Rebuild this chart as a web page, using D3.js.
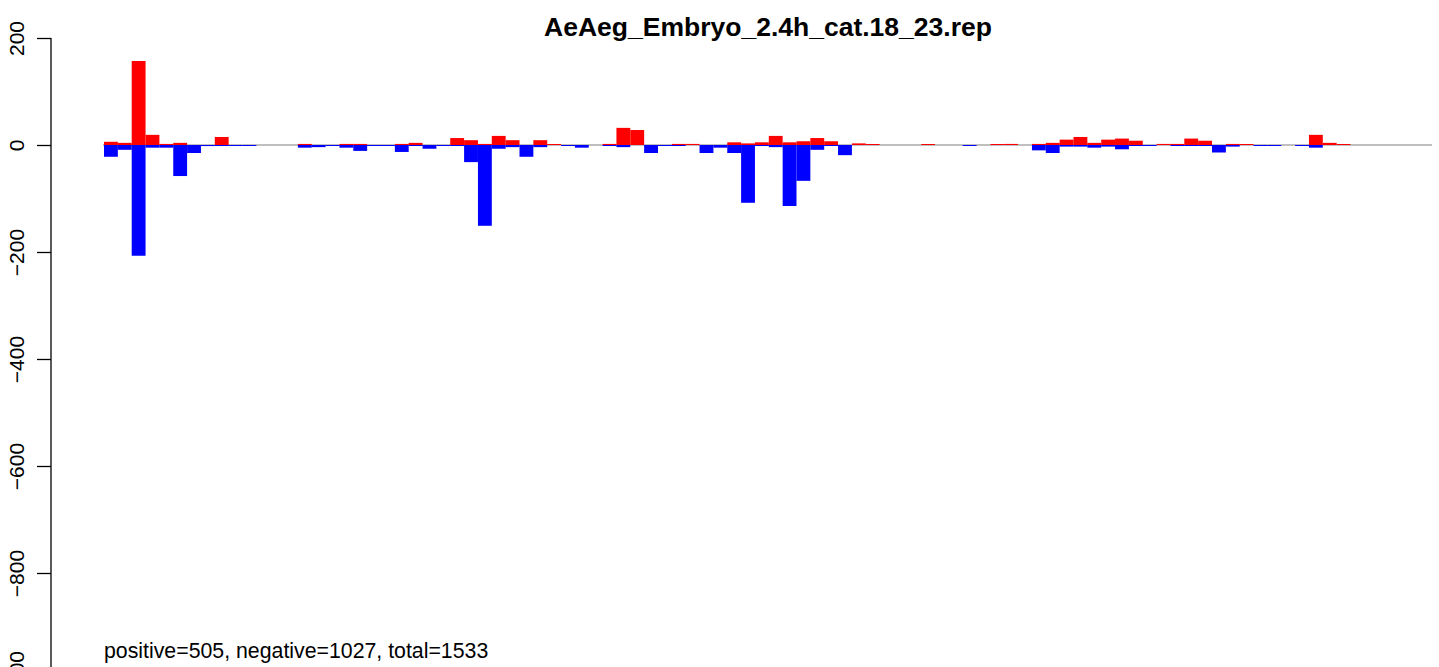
<!DOCTYPE html>
<html>
<head>
<meta charset="utf-8">
<script src="https://cdn.jsdelivr.net/npm/d3@7"></script>
<style>
html,body{margin:0;padding:0;background:#fff;}
svg{display:block;}
text{font-family:"Liberation Sans",Arial,sans-serif;}
</style>
</head>
<body>
<svg id="chart" width="1439" height="667"></svg>
<script>
const title = "AeAeg_Embryo_2.4h_cat.18_23.rep";
const footer = "positive=505, negative=1027, total=1533";
const yTicks = [200, 0, -200, -400, -600, -800, -1000];

// positive (red) counts per position
const positive = [
  6, 4, 157, 19, 2, 4, 0, 0, 15, 0,
  0, 0, 0, 0, 2, 0, 0, 2, 2, 0,
  0, 2, 4, 0, 0, 13, 9, 2, 17, 9,
  0, 9, 1, 0, 0, 0, 2, 32, 28, 0,
  0, 2, 2, 0, 0, 5, 3, 5, 17, 5,
  7, 13, 7, 0, 3, 1, 0, 0, 0, 1,
  0, 0, 0, 0, 1, 2, 0, 2, 4, 10,
  15, 4, 10, 12, 8, 0, 2, 2, 12, 8,
  0, 2, 1, 0, 0, 0, 0, 19, 4, 1,
  0, 0, 0, 0, 0, 0
];
// negative (blue) counts per position
const negative = [
  -22, -9, -207, -5, -5, -58, -15, -2, -1, -1,
  -1, 0, 0, 0, -5, -4, -1, -5, -11, -1,
  -1, -13, -1, -7, -1, -1, -32, -151, -7, -4,
  -22, -4, 0, -1, -5, 0, -1, -4, 0, -15,
  -1, -1, 0, -15, -5, -15, -108, -1, -4, -114,
  -67, -9, -1, -19, 0, 0, 0, 0, 0, 0,
  0, 0, -1, 0, 0, 0, 0, -10, -15, -3,
  -3, -5, -3, -8, -1, -1, 0, -1, -1, -1,
  -14, -3, 0, -1, -1, 0, -1, -5, 0, 0,
  0, 0, 0, 0, 0, 0
];

const svg = d3.select("#chart");
const idx = d3.range(positive.length);

const x = d3.scaleBand().domain(idx).range([104, 104 + 13.85 * positive.length]).padding(0);
const y = d3.scaleLinear().domain([-1000, 200]).range([680, 38]);

// zero reference line
svg.append("line")
  .attr("x1", 103).attr("x2", 1432)
  .attr("y1", y(0)).attr("y2", y(0))
  .attr("stroke", "#aaaaaa").attr("stroke-width", 1.6);

function barH(v){ const h = Math.abs(y(v) - y(0)); return v === 0 ? 0 : Math.max(h, 1); }

svg.append("g").selectAll("rect").data(idx.filter(i => positive[i] !== 0)).join("rect")
  .attr("x", i => x(i)).attr("width", x.bandwidth())
  .attr("y", i => y(0) - barH(positive[i]))
  .attr("height", i => barH(positive[i]))
  .attr("fill", "#ff0000");

svg.append("g").selectAll("rect").data(idx.filter(i => negative[i] !== 0)).join("rect")
  .attr("x", i => x(i)).attr("width", x.bandwidth())
  .attr("y", y(0))
  .attr("height", i => barH(negative[i]))
  .attr("fill", "#0000ff");

// y axis
const axis = d3.axisLeft(y).tickValues(yTicks).tickSize(14).tickPadding(4).tickFormat(d => d < 0 ? "\u2212" + Math.abs(d) : d);
const ga = svg.append("g").attr("transform", "translate(51,0)").call(axis);
ga.select(".domain").attr("d", "M0," + y(200) + "V" + y(-1000)).attr("stroke", "#000").attr("stroke-width", 1.3);
ga.selectAll(".tick line").attr("stroke", "#000").attr("stroke-width", 1.3);
ga.selectAll(".tick text")
  .attr("x", null).attr("dy", null)
  .attr("transform", "translate(-27,0) rotate(-90)")
  .attr("text-anchor", "middle")
  .attr("font-size", 21)
  .attr("font-family", "Liberation Sans, Arial, sans-serif")
  .attr("fill", "#000");

svg.append("text")
  .attr("x", 768).attr("y", 36)
  .attr("text-anchor", "middle")
  .attr("font-size", 26.5)
  .attr("font-weight", "bold")
  .text(title);

svg.append("text")
  .attr("x", 104).attr("y", 658)
  .attr("font-size", 21.3)
  .text(footer);
</script>
</body>
</html>
